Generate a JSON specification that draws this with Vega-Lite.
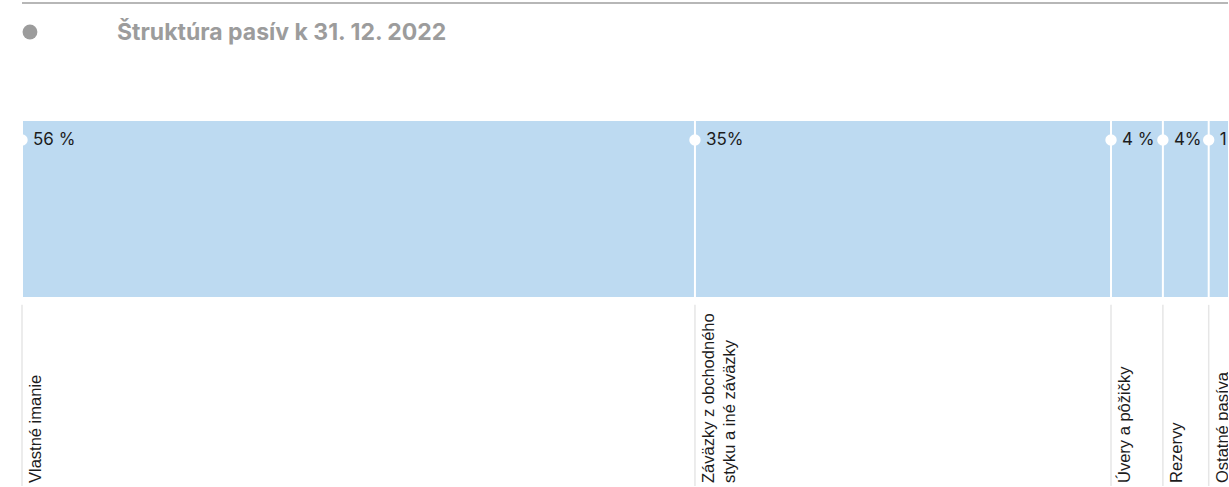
{
  "$schema": "https://vega.github.io/schema/vega-lite/v6.json",
  "width": 1206,
  "height": 487,
  "autosize": "none",
  "padding": {"left": 22, "top": 0, "right": 0, "bottom": 0},
  "background": "white",
  "config": {"view": {"stroke": null}},
  "title": {
    "text": "Štruktúra pasív k 31. 12. 2022",
    "anchor": "start",
    "frame": "group",
    "orient": "top",
    "dx": 95,
    "offset": -45,
    "font": "Inter",
    "fontSize": 23,
    "fontWeight": "bold",
    "color": "#9c9c9c"
  },
  "data": {"values": [
    {"poradie": 1, "kategoria": "Vlastné imanie", "podiel": 55.8, "stitok": "56 %"},
    {"poradie": 2, "kategoria": "Záväzky z obchodného\nstyku a iné záväzky", "podiel": 34.5, "stitok": "35%"},
    {"poradie": 3, "kategoria": "Úvery a pôžičky", "podiel": 4.3, "stitok": "4 %"},
    {"poradie": 4, "kategoria": "Rezervy", "podiel": 3.8, "stitok": "4%"},
    {"poradie": 5, "kategoria": "Ostatné pasíva", "podiel": 1.6, "stitok": "1 %"}
  ]},
  "transform": [
    {"stack": "podiel", "groupby": [], "sort": [{"field": "poradie", "order": "ascending"}], "as": ["zac", "kon"]}
  ],
  "layer": [
    {
      "data": {"values": [{"prvok": "linka"}]},
      "mark": {"type": "rule", "color": "#9f9f9f", "strokeWidth": 1.5},
      "encoding": {
        "y": {"datum": 0.62, "type": "quantitative", "scale": {"domain": [0, 100], "reverse": true}, "axis": null}
      }
    },
    {
      "data": {"values": [{"prvok": "bodka"}]},
      "mark": {"type": "point", "filled": true, "opacity": 1, "color": "#9c9c9c", "size": 220},
      "encoding": {
        "x": {"datum": 0.66, "type": "quantitative", "scale": {"domain": [0, 100]}, "axis": null},
        "y": {"datum": 6.57, "type": "quantitative"}
      }
    },
    {
      "mark": {"type": "rect", "color": "#bddaf1"},
      "encoding": {
        "x": {"field": "zac", "type": "quantitative"},
        "x2": {"field": "kon"},
        "y": {"datum": 24.85, "type": "quantitative"},
        "y2": {"datum": 60.99}
      }
    },
    {
      "mark": {"type": "rule", "color": "white", "strokeWidth": 2},
      "encoding": {
        "x": {"field": "zac", "type": "quantitative"},
        "y": {"datum": 24.85, "type": "quantitative"},
        "y2": {"datum": 60.99}
      }
    },
    {
      "mark": {"type": "point", "filled": true, "opacity": 1, "color": "white", "size": 130},
      "encoding": {
        "x": {"field": "zac", "type": "quantitative"},
        "y": {"datum": 28.75, "type": "quantitative"}
      }
    },
    {
      "mark": {"type": "text", "align": "left", "baseline": "middle", "dx": 11, "font": "Inter", "fontSize": 17, "color": "#1c1c1c"},
      "encoding": {
        "x": {"field": "zac", "type": "quantitative"},
        "y": {"datum": 28.75, "type": "quantitative"},
        "text": {"field": "stitok"}
      }
    },
    {
      "mark": {"type": "rule", "color": "#e6e6e6", "strokeWidth": 1.5},
      "encoding": {
        "x": {"field": "zac", "type": "quantitative"},
        "y": {"datum": 62.6, "type": "quantitative"},
        "y2": {"datum": 99.79}
      }
    },
    {
      "mark": {"type": "text", "angle": 270, "align": "left", "baseline": "top", "dy": 6, "font": "Liberation Sans", "fontSize": 16.5, "lineBreak": "\n", "lineHeight": 21, "color": "#1c1c1c"},
      "encoding": {
        "x": {"field": "zac", "type": "quantitative"},
        "y": {"datum": 99.18, "type": "quantitative"},
        "text": {"field": "kategoria"}
      }
    }
  ]
}
